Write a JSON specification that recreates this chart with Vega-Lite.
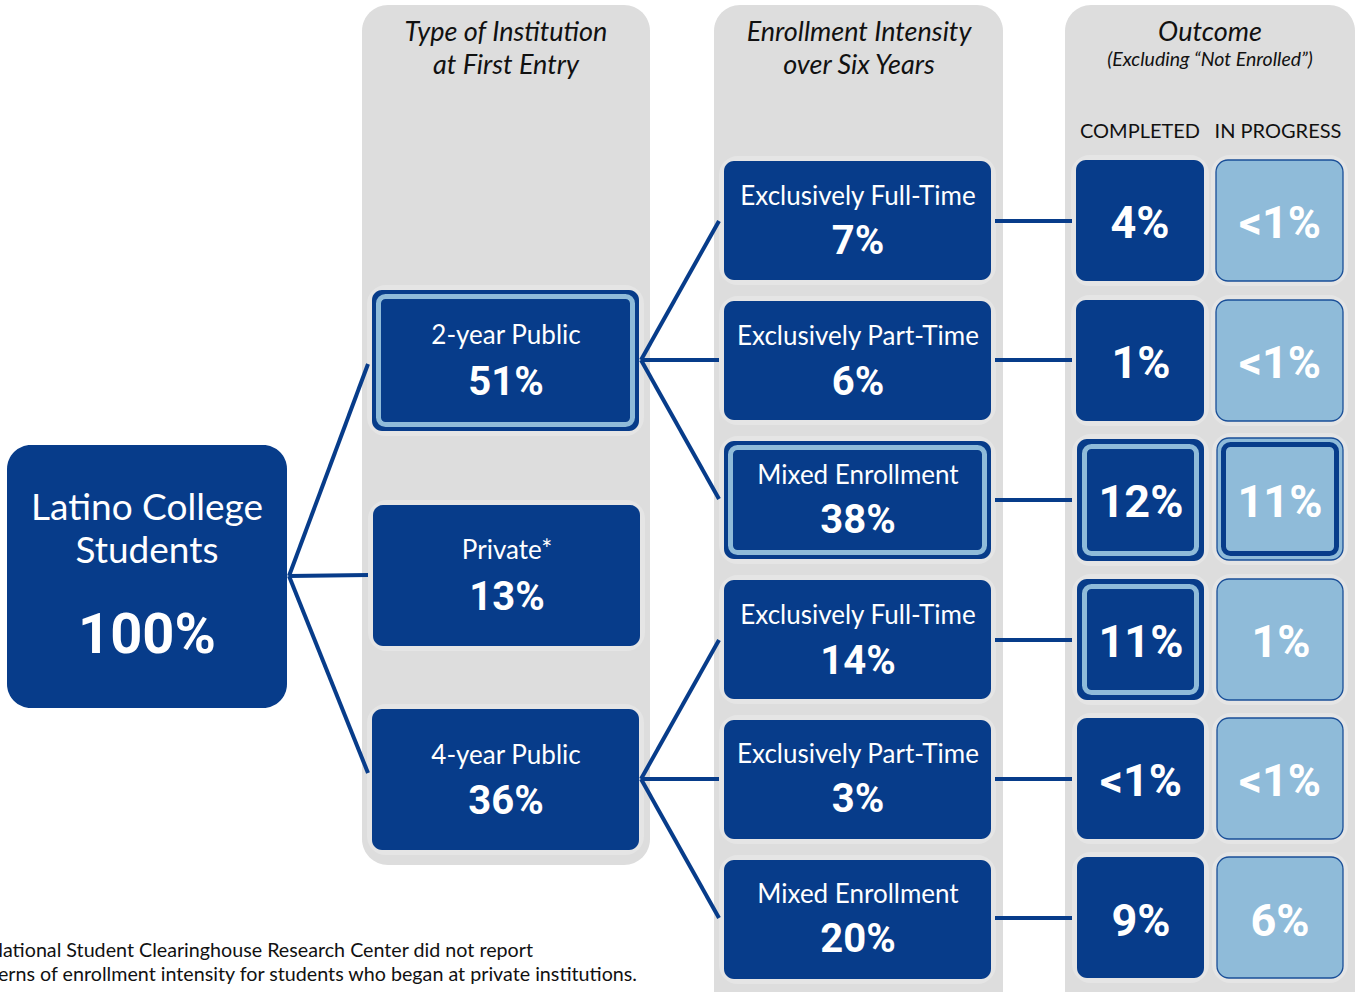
{
  "$schema": "https://vega.github.io/schema/vega-lite/v6.json",
  "width": 1356,
  "height": 992,
  "autosize": {"type": "fit", "contains": "padding"},
  "padding": 0,
  "background": "white",
  "config": {"view": {"stroke": null}},
  "datasets": {
    "panels": [
      {"name": "Type of Institution", "x": 362, "x2": 650, "y": 5, "y2": 865},
      {"name": "Enrollment Intensity", "x": 714, "x2": 1003, "y": 5, "y2": 1030},
      {"name": "Outcome", "x": 1065, "x2": 1355, "y": 5, "y2": 1030}
    ],
    "startbox": [
      {"name": "Latino College Students", "x": 7, "x2": 287, "y": 445, "y2": 708}
    ],
    "boxes": [
      {"name": "2-year Public", "kind": "dark", "x": 372, "x2": 639, "y": 290, "y2": 431},
      {"name": "Private", "kind": "dark", "x": 373, "x2": 640, "y": 505, "y2": 646},
      {"name": "4-year Public", "kind": "dark", "x": 372, "x2": 639, "y": 709, "y2": 850},
      {"name": "2y EFT", "kind": "dark", "x": 724, "x2": 991, "y": 161, "y2": 280},
      {"name": "2y EPT", "kind": "dark", "x": 724, "x2": 991, "y": 301, "y2": 420},
      {"name": "2y Mixed", "kind": "dark", "x": 724, "x2": 991, "y": 441, "y2": 559},
      {"name": "4y EFT", "kind": "dark", "x": 724, "x2": 991, "y": 580, "y2": 699},
      {"name": "4y EPT", "kind": "dark", "x": 724, "x2": 991, "y": 720, "y2": 839},
      {"name": "4y Mixed", "kind": "dark", "x": 724, "x2": 991, "y": 860, "y2": 979},
      {"name": "C1", "kind": "dark", "x": 1076, "x2": 1204, "y": 160, "y2": 281},
      {"name": "C2", "kind": "dark", "x": 1076, "x2": 1204, "y": 300, "y2": 421},
      {"name": "C3", "kind": "dark", "x": 1077, "x2": 1204, "y": 439, "y2": 561},
      {"name": "C4", "kind": "dark", "x": 1077, "x2": 1204, "y": 579, "y2": 700},
      {"name": "C5", "kind": "dark", "x": 1077, "x2": 1204, "y": 718, "y2": 839},
      {"name": "C6", "kind": "dark", "x": 1077, "x2": 1204, "y": 857, "y2": 978},
      {"name": "P1", "kind": "light", "x": 1216, "x2": 1343, "y": 160, "y2": 281},
      {"name": "P2", "kind": "light", "x": 1216, "x2": 1343, "y": 300, "y2": 421},
      {"name": "P3", "kind": "light", "x": 1217, "x2": 1343, "y": 438, "y2": 560},
      {"name": "P4", "kind": "light", "x": 1217, "x2": 1343, "y": 579, "y2": 700},
      {"name": "P5", "kind": "light", "x": 1217, "x2": 1343, "y": 718, "y2": 839},
      {"name": "P6", "kind": "light", "x": 1217, "x2": 1343, "y": 857, "y2": 978}
    ],
    "rings": [
      {"name": "2-year Public", "kind": "lightring", "x": 378.5, "x2": 632.5, "y": 296.5, "y2": 424.5},
      {"name": "2y Mixed", "kind": "lightring", "x": 730.5, "x2": 984.5, "y": 447.5, "y2": 552.5},
      {"name": "C3", "kind": "lightring", "x": 1084.5, "x2": 1196.5, "y": 446.5, "y2": 553.5},
      {"name": "C4", "kind": "lightring", "x": 1084.5, "x2": 1196.5, "y": 586.5, "y2": 692.5},
      {"name": "P3", "kind": "darkring", "x": 1223.5, "x2": 1336.5, "y": 444.5, "y2": 553.5}
    ],
    "links": [
      {"from": "start", "to": "2-year Public", "x": 289, "y": 576, "x2": 368, "y2": 364},
      {"from": "start", "to": "Private", "x": 289, "y": 576, "x2": 368, "y2": 575},
      {"from": "start", "to": "4-year Public", "x": 289, "y": 576, "x2": 368, "y2": 773},
      {"from": "2-year Public", "to": "2y EFT", "x": 641, "y": 360, "x2": 719, "y2": 221},
      {"from": "2-year Public", "to": "2y EPT", "x": 641, "y": 360, "x2": 719, "y2": 360},
      {"from": "2-year Public", "to": "2y Mixed", "x": 641, "y": 360, "x2": 719, "y2": 499},
      {"from": "4-year Public", "to": "4y EFT", "x": 641, "y": 779, "x2": 719, "y2": 640},
      {"from": "4-year Public", "to": "4y EPT", "x": 641, "y": 779, "x2": 719, "y2": 779},
      {"from": "4-year Public", "to": "4y Mixed", "x": 641, "y": 779, "x2": 719, "y2": 918},
      {"from": "2y EFT", "to": "C1", "x": 995, "y": 221, "x2": 1072, "y2": 221},
      {"from": "2y EPT", "to": "C2", "x": 995, "y": 360, "x2": 1072, "y2": 360},
      {"from": "2y Mixed", "to": "C3", "x": 995, "y": 500, "x2": 1072, "y2": 500},
      {"from": "4y EFT", "to": "C4", "x": 995, "y": 640, "x2": 1072, "y2": 640},
      {"from": "4y EPT", "to": "C5", "x": 995, "y": 779, "x2": 1072, "y2": 779},
      {"from": "4y Mixed", "to": "C6", "x": 995, "y": 918, "x2": 1072, "y2": 918}
    ],
    "texts": [
      {"role": "header", "text": "Type of Institution", "x": 506, "y": 33},
      {"role": "header", "text": "at First Entry", "x": 506, "y": 66},
      {"role": "header", "text": "Enrollment Intensity", "x": 859, "y": 33},
      {"role": "header", "text": "over Six Years", "x": 859, "y": 66},
      {"role": "header", "text": "Outcome", "x": 1210, "y": 33},
      {"role": "subheader", "text": "(Excluding “Not Enrolled”)", "x": 1210, "y": 60},
      {"role": "colhead", "text": "COMPLETED", "x": 1140, "y": 132},
      {"role": "colhead", "text": "IN PROGRESS", "x": 1278, "y": 132},
      {"role": "startlabel", "text": "Latino College", "x": 147, "y": 509},
      {"role": "startlabel", "text": "Students", "x": 147, "y": 552},
      {"role": "startvalue", "text": "100%", "x": 147, "y": 636},
      {"role": "label", "text": "2-year Public", "x": 506, "y": 336},
      {"role": "value", "text": "51%", "x": 506, "y": 383},
      {"role": "label", "text": "Private*", "x": 507, "y": 551},
      {"role": "value", "text": "13%", "x": 507, "y": 598},
      {"role": "label", "text": "4-year Public", "x": 506, "y": 756},
      {"role": "value", "text": "36%", "x": 506, "y": 802},
      {"role": "label", "text": "Exclusively Full-Time", "x": 858, "y": 197},
      {"role": "value", "text": "7%", "x": 858, "y": 242},
      {"role": "label", "text": "Exclusively Part-Time", "x": 858, "y": 337},
      {"role": "value", "text": "6%", "x": 858, "y": 383},
      {"role": "label", "text": "Mixed Enrollment", "x": 858, "y": 476},
      {"role": "value", "text": "38%", "x": 858, "y": 521},
      {"role": "label", "text": "Exclusively Full-Time", "x": 858, "y": 616},
      {"role": "value", "text": "14%", "x": 858, "y": 662},
      {"role": "label", "text": "Exclusively Part-Time", "x": 858, "y": 755},
      {"role": "value", "text": "3%", "x": 858, "y": 800},
      {"role": "label", "text": "Mixed Enrollment", "x": 858, "y": 895},
      {"role": "value", "text": "20%", "x": 858, "y": 940},
      {"role": "outcome", "text": "4%", "x": 1140, "y": 224},
      {"role": "outcome", "text": "<1%", "x": 1280, "y": 224},
      {"role": "outcome", "text": "1%", "x": 1141, "y": 364},
      {"role": "outcome", "text": "<1%", "x": 1280, "y": 364},
      {"role": "outcome", "text": "12%", "x": 1141, "y": 503},
      {"role": "outcome", "text": "11%", "x": 1280, "y": 503},
      {"role": "outcome", "text": "11%", "x": 1141, "y": 643},
      {"role": "outcome", "text": "1%", "x": 1281, "y": 643},
      {"role": "outcome", "text": "<1%", "x": 1141, "y": 782},
      {"role": "outcome", "text": "<1%", "x": 1280, "y": 782},
      {"role": "outcome", "text": "9%", "x": 1141, "y": 922},
      {"role": "outcome", "text": "6%", "x": 1280, "y": 922},
      {"role": "note", "text": "*The National Student Clearinghouse Research Center did not report", "x": 533, "y": 951},
      {"role": "note", "text": "patterns of enrollment intensity for students who began at private institutions.", "x": 637, "y": 975}
    ]
  },
  "layer": [
    {
      "data": {"name": "panels"},
      "mark": {"type": "rect", "fill": "#dddddd", "cornerRadius": 26, "clip": true},
      "encoding": {
        "x": {"field": "x", "type": "quantitative", "scale": {"domain": [0, 1356], "nice": false, "zero": false}, "axis": null},
        "x2": {"field": "x2"},
        "y": {"field": "y", "type": "quantitative", "scale": {"domain": [0, 992], "nice": false, "zero": false, "reverse": true}, "axis": null},
        "y2": {"field": "y2"}
      }
    },
    {
      "data": {"name": "boxes"},
      "mark": {"type": "rect", "fill": null, "stroke": "#e5e5e5", "strokeWidth": 10, "cornerRadius": 14},
      "encoding": {
        "x": {"field": "x", "type": "quantitative"},
        "x2": {"field": "x2"},
        "y": {"field": "y", "type": "quantitative"},
        "y2": {"field": "y2"}
      }
    },
    {
      "data": {"name": "links"},
      "mark": {"type": "rule", "stroke": "#073c8a", "strokeWidth": 4},
      "encoding": {
        "x": {"field": "x", "type": "quantitative"},
        "x2": {"field": "x2"},
        "y": {"field": "y", "type": "quantitative"},
        "y2": {"field": "y2"}
      }
    },
    {
      "data": {"name": "startbox"},
      "mark": {"type": "rect", "fill": "#073c8a", "cornerRadius": 24},
      "encoding": {
        "x": {"field": "x", "type": "quantitative"},
        "x2": {"field": "x2"},
        "y": {"field": "y", "type": "quantitative"},
        "y2": {"field": "y2"}
      }
    },
    {
      "data": {"name": "boxes"},
      "transform": [{"filter": "datum.kind === 'dark'"}],
      "mark": {"type": "rect", "fill": "#073c8a", "cornerRadius": 10},
      "encoding": {
        "x": {"field": "x", "type": "quantitative"},
        "x2": {"field": "x2"},
        "y": {"field": "y", "type": "quantitative"},
        "y2": {"field": "y2"}
      }
    },
    {
      "data": {"name": "boxes"},
      "transform": [{"filter": "datum.kind === 'light'"}],
      "mark": {"type": "rect", "fill": "#8fbbd9", "stroke": "#1a4f98", "strokeWidth": 1.3, "cornerRadius": 12},
      "encoding": {
        "x": {"field": "x", "type": "quantitative"},
        "x2": {"field": "x2"},
        "y": {"field": "y", "type": "quantitative"},
        "y2": {"field": "y2"}
      }
    },
    {
      "data": {"name": "rings"},
      "transform": [{"filter": "datum.kind === 'lightring'"}],
      "mark": {"type": "rect", "fill": null, "stroke": "#8fbbd9", "strokeWidth": 5, "cornerRadius": 7},
      "encoding": {
        "x": {"field": "x", "type": "quantitative"},
        "x2": {"field": "x2"},
        "y": {"field": "y", "type": "quantitative"},
        "y2": {"field": "y2"}
      }
    },
    {
      "data": {"name": "rings"},
      "transform": [{"filter": "datum.kind === 'darkring'"}],
      "mark": {"type": "rect", "fill": null, "stroke": "#073c8a", "strokeWidth": 5, "cornerRadius": 7},
      "encoding": {
        "x": {"field": "x", "type": "quantitative"},
        "x2": {"field": "x2"},
        "y": {"field": "y", "type": "quantitative"},
        "y2": {"field": "y2"}
      }
    },
    {
      "data": {"name": "texts"},
      "transform": [{"filter": "datum.role === 'header'"}],
      "mark": {"type": "text", "font": "Lato", "fontStyle": "italic", "fontSize": 27, "color": "#111111", "align": "center", "baseline": "middle"},
      "encoding": {
        "x": {"field": "x", "type": "quantitative"},
        "y": {"field": "y", "type": "quantitative"},
        "text": {"field": "text"}
      }
    },
    {
      "data": {"name": "texts"},
      "transform": [{"filter": "datum.role === 'subheader'"}],
      "mark": {"type": "text", "font": "Lato", "fontStyle": "italic", "fontSize": 19.5, "color": "#111111", "align": "center", "baseline": "middle"},
      "encoding": {
        "x": {"field": "x", "type": "quantitative"},
        "y": {"field": "y", "type": "quantitative"},
        "text": {"field": "text"}
      }
    },
    {
      "data": {"name": "texts"},
      "transform": [{"filter": "datum.role === 'colhead'"}],
      "mark": {"type": "text", "font": "Lato", "fontSize": 20, "color": "#111111", "align": "center", "baseline": "middle"},
      "encoding": {
        "x": {"field": "x", "type": "quantitative"},
        "y": {"field": "y", "type": "quantitative"},
        "text": {"field": "text"}
      }
    },
    {
      "data": {"name": "texts"},
      "transform": [{"filter": "datum.role === 'startlabel'"}],
      "mark": {"type": "text", "font": "Lato", "fontSize": 37, "color": "white", "align": "center", "baseline": "middle"},
      "encoding": {
        "x": {"field": "x", "type": "quantitative"},
        "y": {"field": "y", "type": "quantitative"},
        "text": {"field": "text"}
      }
    },
    {
      "data": {"name": "texts"},
      "transform": [{"filter": "datum.role === 'startvalue'"}],
      "mark": {"type": "text", "font": "Roboto", "fontWeight": "bold", "fontSize": 56, "color": "white", "align": "center", "baseline": "middle"},
      "encoding": {
        "x": {"field": "x", "type": "quantitative"},
        "y": {"field": "y", "type": "quantitative"},
        "text": {"field": "text"}
      }
    },
    {
      "data": {"name": "texts"},
      "transform": [{"filter": "datum.role === 'label'"}],
      "mark": {"type": "text", "font": "Lato", "fontSize": 26, "color": "white", "align": "center", "baseline": "middle"},
      "encoding": {
        "x": {"field": "x", "type": "quantitative"},
        "y": {"field": "y", "type": "quantitative"},
        "text": {"field": "text"}
      }
    },
    {
      "data": {"name": "texts"},
      "transform": [{"filter": "datum.role === 'value'"}],
      "mark": {"type": "text", "font": "Roboto", "fontWeight": "bold", "fontSize": 40, "color": "white", "align": "center", "baseline": "middle"},
      "encoding": {
        "x": {"field": "x", "type": "quantitative"},
        "y": {"field": "y", "type": "quantitative"},
        "text": {"field": "text"}
      }
    },
    {
      "data": {"name": "texts"},
      "transform": [{"filter": "datum.role === 'outcome'"}],
      "mark": {"type": "text", "font": "Roboto", "fontWeight": "bold", "fontSize": 45, "color": "white", "align": "center", "baseline": "middle"},
      "encoding": {
        "x": {"field": "x", "type": "quantitative"},
        "y": {"field": "y", "type": "quantitative"},
        "text": {"field": "text"}
      }
    },
    {
      "data": {"name": "texts"},
      "transform": [{"filter": "datum.role === 'note'"}],
      "mark": {"type": "text", "font": "Lato", "fontSize": 19.7, "color": "#111111", "align": "right", "baseline": "middle", "clip": true},
      "encoding": {
        "x": {"field": "x", "type": "quantitative"},
        "y": {"field": "y", "type": "quantitative"},
        "text": {"field": "text"}
      }
    }
  ]
}
